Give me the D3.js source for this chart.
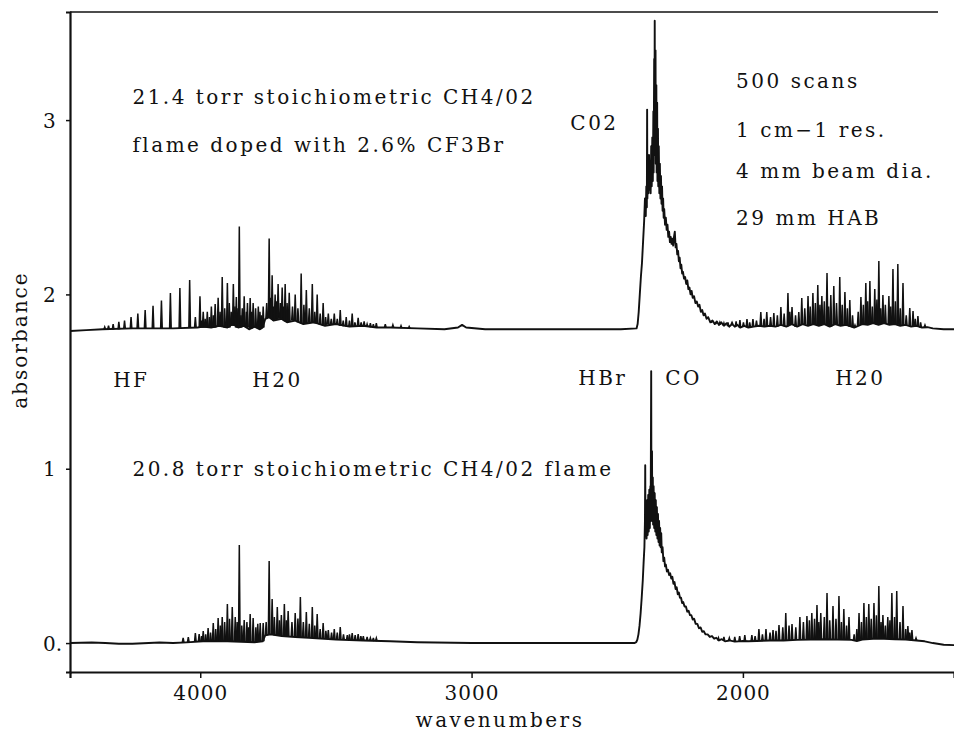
<!DOCTYPE html>
<html><head><meta charset="utf-8">
<script src="https://cdn.jsdelivr.net/npm/d3@7"></script>
<style>
body{margin:0;background:#fff}
text{font-family:"DejaVu Serif",serif;fill:#111}
</style>
</head><body>
<svg id="chart" width="954" height="735"></svg>
<script>
// ---------------- data ----------------
const xTicks = [4000, 3000, 2000];
const yTicks = [0, 1, 2, 3];
const yTickLabels = ["0.", "1", "2", "3"];

// doped flame (upper trace): continuum [wavenumber, absorbance]
const dopedContinuum = [
[4479,1.79],[4420,1.795],[4360,1.80],[4250,1.805],[4100,1.805],[4010,1.81],[3990,1.815],[3960,1.81],[3930,1.82],[3900,1.81],[3880,1.83],[3860,1.81],[3840,1.82],[3820,1.80],[3800,1.815],[3780,1.80],[3770,1.81],[3760,1.86],[3745,1.87],[3730,1.85],[3700,1.86],[3680,1.84],[3650,1.85],[3620,1.83],[3580,1.84],[3540,1.82],[3500,1.83],[3450,1.815],[3400,1.82],[3350,1.81],[3300,1.81],[3200,1.805],[3100,1.80],[3050,1.81],[3035,1.825],[3020,1.81],[2950,1.80],[2800,1.80],[2600,1.80],[2450,1.80],
[2392,1.805],[2388,1.83],[2384,1.90],[2380,2.00],[2376,2.10],[2372,2.18],[2368,2.30],[2364,2.42],[2361,2.55],[2358,2.45],[2356,2.62],[2354,2.50],[2353,3.06],[2352,2.55],[2350,2.75],[2348,2.58],[2346,2.80],[2344,2.60],[2342,2.72],[2340,2.58],[2338,2.85],[2336,2.62],[2334,2.90],[2332,2.65],[2330,3.05],[2329,2.70],[2327,3.35],[2326,2.80],[2325,3.57],[2324,2.90],[2322,3.40],[2321,2.75],[2319,3.20],[2318,2.70],[2316,3.10],[2315,2.65],[2313,2.95],[2312,2.62],[2310,2.85],[2308,2.58],[2306,2.75],[2304,2.55],[2302,2.68],[2300,2.52],[2298,2.62],[2296,2.48],[2294,2.55],[2292,2.44],[2290,2.49],[2287,2.40],[2284,2.44],[2281,2.37],[2278,2.40],[2275,2.33],[2272,2.36],[2269,2.30],[2266,2.33],[2263,2.29],[2260,2.32],[2257,2.28],[2254,2.33],[2251,2.36],[2248,2.27],[2245,2.29],[2242,2.23],[2239,2.25],[2236,2.19],[2233,2.21],[2230,2.15],[2227,2.17],[2224,2.12],[2221,2.13],[2217,2.09],[2213,2.10],[2209,2.06],[2205,2.08],[2201,2.03],[2197,2.04],[2193,2.00],[2189,2.02],[2185,1.98],[2180,1.99],[2175,1.95],[2170,1.96],[2165,1.93],[2160,1.94],[2155,1.90],[2150,1.91],[2145,1.88],[2140,1.89],[2134,1.86],[2128,1.87],[2120,1.84],[2112,1.85],[2104,1.83],[2096,1.845],[2088,1.825],[2080,1.84],[2070,1.82],[2060,1.835],[2050,1.815],[2040,1.83],[2030,1.815],[2020,1.825],[2010,1.81],[1995,1.82],[1980,1.81],
[1960,1.815],[1940,1.82],[1920,1.815],[1900,1.82],[1880,1.815],[1860,1.825],[1840,1.815],[1820,1.83],[1800,1.815],[1780,1.83],[1760,1.82],[1740,1.83],[1720,1.82],[1700,1.83],[1680,1.815],[1660,1.83],[1640,1.82],[1620,1.825],[1600,1.815],[1590,1.81],[1575,1.82],[1560,1.83],[1540,1.825],[1520,1.835],[1500,1.825],[1480,1.835],[1460,1.825],[1440,1.83],[1420,1.82],[1400,1.825],[1380,1.815],[1360,1.82],[1340,1.81],[1320,1.812],[1300,1.805],[1260,1.80],[1222,1.80]
];
// doped flame rotational lines [wavenumber, peak absorbance, local base]
const dopedLines = [
[4352,1.813,1.80],[4338,1.82,1.80],[4321,1.83,1.80],[4300,1.842,1.80],[4279,1.85,1.802],[4255,1.87,1.803],[4230,1.89,1.804],[4203,1.91,1.805],[4174,1.935,1.805],[4143,1.965,1.805],[4110,2.008,1.805],[4075,2.037,1.805],[4039,2.083,1.807],[4001,1.99,1.81],
[4018,1.87,1.81],[3995,1.85,1.81],[3989,1.90,1.81],[3982,1.86,1.81],[3974,1.90,1.81],[3966,1.87,1.81],[3959,1.93,1.81],[3952,1.88,1.81],[3945,1.945,1.81],[3934,1.98,1.815],[3927,1.90,1.815],[3919,2.10,1.815],[3910,1.92,1.81],[3900,2.065,1.81],[3893,1.95,1.81],[3886,1.90,1.82],[3878,2.06,1.82],[3872,1.93,1.82],[3867,1.985,1.81],[3861,1.92,1.81],[3856,2.39,1.81],[3850,1.88,1.81],[3845,1.92,1.815],[3838,1.99,1.815],[3830,1.90,1.81],[3826,1.95,1.81],[3816,1.98,1.805],[3810,1.90,1.805],[3805,1.95,1.81],[3796,1.92,1.81],[3786,1.93,1.805],[3780,1.90,1.80],[3775,1.88,1.805],[3768,1.93,1.81],
[3755,1.95,1.865],[3746,2.32,1.87],[3740,1.98,1.86],[3735,2.11,1.855],[3730,1.93,1.85],[3724,2.00,1.855],[3718,1.96,1.855],[3713,2.06,1.86],[3705,1.95,1.86],[3698,2.04,1.855],[3692,1.93,1.85],[3687,2.06,1.845],[3680,1.95,1.84],[3672,2.01,1.845],[3660,1.93,1.85],[3650,2.00,1.85],[3640,1.92,1.84],[3628,2.12,1.835],[3618,1.94,1.832],[3609,2.025,1.835],[3598,1.92,1.838],[3587,2.06,1.84],[3578,1.90,1.835],[3569,2.00,1.83],[3558,1.89,1.825],[3547,1.95,1.822],[3538,1.87,1.825],[3528,1.89,1.828],[3517,1.86,1.83],[3506,1.89,1.828],[3495,1.86,1.825],[3484,1.91,1.82],[3473,1.85,1.818],[3462,1.87,1.816],[3450,1.85,1.815],[3440,1.89,1.817],[3430,1.84,1.818],[3418,1.865,1.82],[3407,1.84,1.818],[3396,1.845,1.816],[3385,1.83,1.814],[3373,1.835,1.812],[3362,1.83,1.81],[3351,1.835,1.81],[3318,1.83,1.81],[3290,1.825,1.81],[3260,1.82,1.807],[3230,1.815,1.805],
[2115,1.84,1.84],[2100,1.835,1.83],[2085,1.84,1.826],[2070,1.835,1.82],[2055,1.84,1.818],[2040,1.84,1.83],[2025,1.845,1.818],[2011,1.853,1.81],[1998,1.84,1.815],[1985,1.859,1.812],[1975,1.84,1.812],[1963,1.859,1.815],[1950,1.85,1.818],[1934,1.899,1.818],[1922,1.86,1.815],[1912,1.899,1.818],[1898,1.87,1.82],[1886,1.893,1.816],[1873,1.88,1.816],[1860,1.928,1.825],[1848,1.89,1.818],[1834,2.008,1.818],[1827,1.90,1.825],[1819,1.928,1.828],[1806,1.88,1.815],[1794,1.899,1.82],[1783,1.979,1.828],[1772,1.92,1.828],[1760,1.991,1.82],[1752,1.93,1.825],[1742,2.008,1.83],[1733,1.95,1.826],[1724,2.054,1.822],[1716,1.94,1.82],[1709,1.991,1.825],[1700,1.96,1.83],[1690,2.123,1.824],[1684,1.93,1.818],[1676,1.996,1.816],[1665,2.048,1.825],[1655,1.95,1.83],[1643,2.100,1.822],[1634,1.94,1.822],[1624,2.014,1.825],[1615,1.92,1.82],[1606,1.968,1.815],[1596,1.88,1.812],[1587,1.824,1.81],[1575,1.90,1.82],[1565,1.985,1.828],[1556,1.94,1.83],[1547,2.065,1.828],[1540,1.96,1.826],[1532,2.077,1.83],[1523,1.93,1.835],[1514,2.031,1.83],[1506,1.97,1.826],[1499,2.192,1.826],[1492,1.92,1.83],[1484,1.996,1.834],[1475,1.94,1.83],[1462,1.991,1.826],[1455,1.93,1.826],[1447,2.146,1.83],[1438,1.96,1.83],[1429,2.174,1.826],[1420,1.92,1.82],[1410,2.065,1.822],[1398,1.88,1.825],[1385,1.922,1.818],[1373,1.905,1.816],[1365,1.86,1.82],[1355,1.876,1.816],[1345,1.84,1.81],[1329,1.824,1.811]
];

// undoped flame (lower trace): continuum [wavenumber, absorbance]
const cleanContinuum = [
[4479,0.0],[4400,0.003],[4350,0.0],[4300,-0.004],[4250,-0.004],[4150,0.003],[4100,0.0],[4050,0.004],[3990,0.01],[3900,0.01],[3800,0.005],[3770,0.01],[3760,0.045],[3740,0.05],[3700,0.04],[3650,0.035],[3600,0.03],[3500,0.02],[3400,0.015],[3300,0.01],[3200,0.005],[3000,0.0],[2800,0.0],[2600,0.0],[2400,0.0],
[2393,0.005],[2389,0.02],[2385,0.05],[2381,0.10],[2377,0.17],[2373,0.26],[2369,0.36],[2366,0.46],[2363,0.55],[2361,0.70],[2360,1.02],[2359,0.62],[2357,0.78],[2355,0.60],[2353,0.82],[2351,0.62],[2349,0.85],[2347,0.64],[2345,0.88],[2343,0.66],[2341,0.90],[2340,0.70],[2338,1.56],[2337,0.72],[2335,1.10],[2334,0.70],[2332,0.95],[2331,0.68],[2329,0.90],[2327,0.66],[2325,0.86],[2323,0.64],[2321,0.82],[2319,0.62],[2317,0.78],[2315,0.60],[2313,0.74],[2311,0.58],[2309,0.70],[2307,0.56],[2305,0.66],[2303,0.55],[2301,0.63],[2299,0.52],[2296,0.55],[2293,0.47],[2290,0.49],[2287,0.44],[2284,0.45],[2280,0.41],[2276,0.42],[2272,0.39],[2268,0.40],[2264,0.37],[2260,0.38],[2256,0.34],[2252,0.35],[2248,0.31],[2244,0.32],[2240,0.28],[2236,0.29],[2232,0.26],[2228,0.26],[2224,0.23],[2220,0.235],[2215,0.21],[2210,0.21],[2205,0.18],[2200,0.185],[2195,0.16],[2190,0.16],[2185,0.135],[2180,0.14],[2174,0.11],[2168,0.11],[2162,0.085],[2156,0.09],[2150,0.065],[2144,0.068],[2138,0.05],[2130,0.05],[2122,0.035],[2114,0.04],[2106,0.025],[2098,0.03],[2088,0.015],[2078,0.022],[2066,0.01],[2050,0.015],[2030,0.008],[2000,0.012],
[1980,0.01],[1950,0.012],[1900,0.015],[1850,0.015],[1800,0.018],[1750,0.02],[1700,0.022],[1650,0.02],[1600,0.018],[1580,0.012],[1560,0.02],[1520,0.025],[1480,0.025],[1440,0.022],[1400,0.02],[1360,0.015],[1330,0.01],[1300,0.0],[1260,-0.01],[1222,-0.012]
];
// undoped flame rotational lines [wavenumber, peak absorbance, local base]
const cleanLines = [
[4063,0.029,0.005],[4044,0.034,0.005],[4018,0.057,0.008],[4004,0.052,0.01],[3995,0.04,0.01],[3989,0.069,0.01],[3980,0.05,0.01],[3971,0.086,0.01],[3962,0.06,0.01],[3952,0.115,0.01],[3943,0.08,0.01],[3934,0.143,0.01],[3926,0.10,0.01],[3919,0.149,0.012],[3910,0.12,0.012],[3900,0.224,0.01],[3892,0.14,0.01],[3882,0.207,0.01],[3871,0.149,0.01],[3864,0.12,0.01],[3856,0.562,0.008],[3847,0.10,0.008],[3838,0.132,0.01],[3828,0.12,0.008],[3822,0.09,0.006],[3816,0.166,0.005],[3805,0.143,0.005],[3795,0.09,0.005],[3788,0.11,0.006],[3779,0.115,0.008],[3768,0.115,0.01],
[3757,0.12,0.045],[3746,0.470,0.05],[3735,0.252,0.048],[3727,0.15,0.045],[3716,0.207,0.044],[3708,0.13,0.042],[3701,0.161,0.04],[3690,0.224,0.04],[3683,0.13,0.038],[3676,0.184,0.037],[3662,0.12,0.036],[3650,0.172,0.035],[3640,0.14,0.034],[3631,0.264,0.033],[3620,0.12,0.032],[3609,0.178,0.031],[3598,0.11,0.03],[3587,0.207,0.029],[3578,0.10,0.028],[3569,0.166,0.027],[3558,0.08,0.026],[3547,0.115,0.025],[3537,0.07,0.024],[3528,0.075,0.023],[3516,0.06,0.022],[3506,0.080,0.021],[3495,0.06,0.02],[3484,0.092,0.02],[3472,0.05,0.019],[3458,0.046,0.018],[3450,0.05,0.018],[3440,0.057,0.017],[3429,0.045,0.016],[3418,0.052,0.016],[3408,0.04,0.015],[3399,0.040,0.015],[3385,0.035,0.014],[3373,0.029,0.013],[3362,0.03,0.012],[3351,0.029,0.012],
[2090,0.03,0.015],[2070,0.035,0.015],[2050,0.03,0.015],[2030,0.035,0.01],[2012,0.04,0.012],[1993,0.046,0.01],[1967,0.046,0.011],[1955,0.04,0.012],[1941,0.080,0.012],[1928,0.05,0.013],[1915,0.080,0.014],[1900,0.06,0.015],[1889,0.075,0.015],[1878,0.07,0.015],[1867,0.103,0.015],[1853,0.09,0.015],[1842,0.172,0.015],[1830,0.10,0.016],[1819,0.109,0.017],[1805,0.09,0.018],[1790,0.149,0.018],[1777,0.12,0.019],[1764,0.155,0.02],[1755,0.13,0.02],[1746,0.172,0.02],[1736,0.14,0.021],[1727,0.218,0.021],[1720,0.12,0.022],[1713,0.172,0.022],[1700,0.15,0.022],[1690,0.287,0.022],[1680,0.13,0.021],[1668,0.212,0.021],[1657,0.14,0.02],[1646,0.270,0.02],[1637,0.12,0.02],[1628,0.195,0.019],[1618,0.10,0.019],[1609,0.149,0.018],[1590,0.05,0.012],[1580,0.08,0.012],[1572,0.172,0.015],[1563,0.12,0.02],[1554,0.229,0.022],[1545,0.15,0.023],[1536,0.224,0.024],[1527,0.14,0.025],[1517,0.229,0.025],[1508,0.16,0.025],[1499,0.327,0.025],[1491,0.12,0.025],[1484,0.161,0.025],[1475,0.10,0.024],[1466,0.149,0.023],[1458,0.13,0.023],[1451,0.287,0.022],[1441,0.15,0.022],[1433,0.298,0.021],[1421,0.12,0.021],[1410,0.212,0.02],[1400,0.08,0.02],[1392,0.098,0.018],[1385,0.06,0.017],[1377,0.075,0.016],[1362,0.029,0.015]
];

// annotations anchored in data coordinates [text, wavenumber, absorbance]
const notes = [
["21.4 torr stoichiometric CH4/02", 4250, 3.092],
["flame doped with 2.6% CF3Br", 4250, 2.817],
["C02", 2636, 2.943],
["500 scans", 2025, 3.184],
["1 cm\u22121 res.", 2025, 2.903],
["4 mm beam dia.", 2025, 2.668],
["29 mm HAB", 2025, 2.398],
["HF", 4321, 1.469],
["H20", 3808, 1.469],
["HBr", 2607, 1.480],
["CO", 2286, 1.480],
["H20", 1660, 1.480],
["20.8 torr stoichiometric CH4/02 flame", 4250, 0.958]
];
const xLabel = "wavenumbers";
const yLabel = "absorbance";

// ---------------- drawing ----------------
const svg = d3.select("#chart");
const mLeft = 70, mRight = 954, mTop = 12, mBottom = 672;

const x = d3.scaleLinear().domain([4480, 1222]).range([mLeft, mRight]);
const y = d3.scaleLinear().domain([-0.166, 3.62]).range([mBottom, mTop]);

// top frame line
svg.append("line").attr("x1", mLeft).attr("x2", 938).attr("y1", mTop).attr("y2", mTop)
  .attr("stroke", "#111").attr("stroke-width", 1.6);

// axes
const yAxis = d3.axisLeft(y).tickValues(yTicks).tickSize(4).tickPadding(0)
  .tickFormat((d, i) => yTickLabels[i]);
const gy = svg.append("g").attr("transform", `translate(${mLeft},0)`).call(yAxis);
gy.select(".domain").attr("stroke", "#111").attr("stroke-width", 2.2);
gy.selectAll(".tick line").attr("stroke", "#111").attr("stroke-width", 1.5);
gy.selectAll(".tick text").attr("x", -27).attr("text-anchor", "start")
  .style("font-family", "DejaVu Serif").style("font-size", "20px").attr("dy", "0.35em").attr("fill", "#111");

const xAxis = d3.axisBottom(x).tickValues(xTicks).tickSize(6).tickPadding(8).tickFormat(d3.format("d"));
const gx = svg.append("g").attr("transform", `translate(0,${mBottom})`).call(xAxis);
gx.select(".domain").attr("stroke", "#111").attr("stroke-width", 2.2);
gx.selectAll(".tick line").attr("stroke", "#111").attr("stroke-width", 1.5);
gx.selectAll(".tick text").style("font-family", "DejaVu Serif").style("font-size", "20px")
  .style("letter-spacing", "1px").attr("fill", "#111");

// axis titles
svg.append("text").attr("x", 500).attr("y", 727).attr("text-anchor", "middle")
  .style("font-size", "20px").style("letter-spacing", "2.5px").text(xLabel);
svg.append("text").attr("transform", "translate(27,340) rotate(-90)").attr("text-anchor", "middle")
  .style("font-size", "20px").style("letter-spacing", "2px").text(yLabel);

// spectra
const lineGen = d3.line().x(d => x(d[0])).y(d => y(d[1]));
function drawSpectrum(cont, lines) {
  const g = svg.append("g");
  g.append("path").datum(cont).attr("d", lineGen)
    .attr("fill", "none").attr("stroke", "#111").attr("stroke-width", 1.9).attr("stroke-linejoin", "round");
  g.selectAll("path.spk").data(lines).join("path").attr("class", "spk")
    .attr("d", d => {
      const px = x(d[0]);
      return `M${px - 0.8},${y(d[2])}L${px},${y(d[1])}L${px + 0.8},${y(d[2])}`;
    })
    .attr("fill", "#111").attr("stroke", "#111").attr("stroke-width", 1.5).attr("stroke-linejoin", "miter");
}
drawSpectrum(dopedContinuum, dopedLines);
drawSpectrum(cleanContinuum, cleanLines);

// annotations
svg.append("g").selectAll("text").data(notes).join("text")
  .attr("x", d => x(d[1])).attr("y", d => y(d[2]))
  .style("font-size", "20px").style("letter-spacing", "2.5px")
  .text(d => d[0]);
</script>
</body></html>
